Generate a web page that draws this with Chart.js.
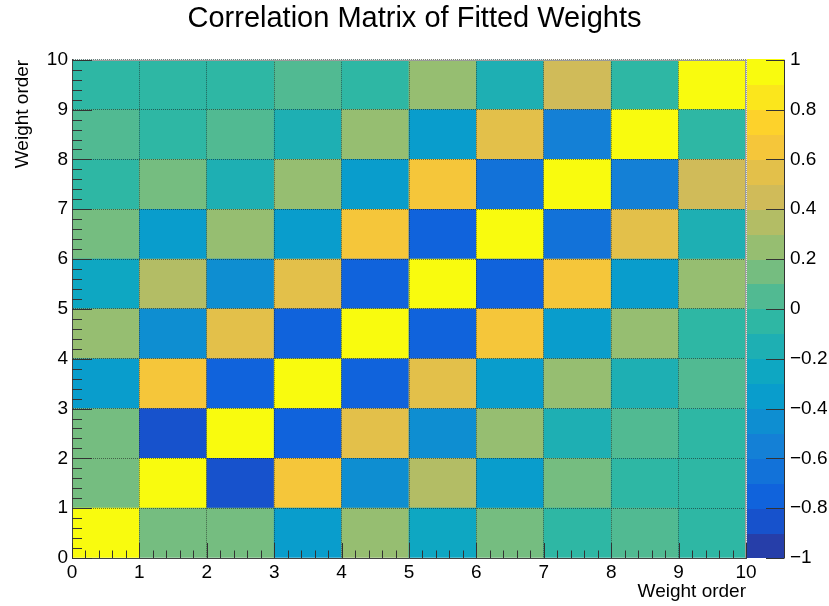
<!DOCTYPE html>
<html>
<head>
<meta charset="utf-8">
<script src="https://cdn.jsdelivr.net/npm/chart.js@4.4.1/dist/chart.umd.min.js"></script>
<style>
html,body{margin:0;padding:0;background:#ffffff;}
#wrap{width:829px;height:606px;}
</style>
</head>
<body>
<div id="wrap"><canvas id="c" width="829" height="606"></canvas></div>
<script>
// ---------- data ----------
const chartTitle = 'Correlation Matrix of Fitted Weights';
const axisTitle = 'Weight order';
const weightOrders = [0, 1, 2, 3, 4, 5, 6, 7, 8, 9];
// correlation value of cell (x = weight order, y = row weight order)
const corrRow0 = [ 1.00,  0.15,  0.15, -0.35,  0.25, -0.25,  0.15, -0.05,  0.05, -0.05];
const corrRow1 = [ 0.15,  1.00, -0.85,  0.65, -0.45,  0.35, -0.35,  0.15, -0.05, -0.05];
const corrRow2 = [ 0.15, -0.85,  1.00, -0.75,  0.55, -0.45,  0.25, -0.15,  0.05, -0.05];
const corrRow3 = [-0.35,  0.65, -0.75,  1.00, -0.75,  0.55, -0.35,  0.25, -0.15,  0.05];
const corrRow4 = [ 0.25, -0.45,  0.55, -0.75,  1.00, -0.75,  0.65, -0.35,  0.25, -0.05];
const corrRow5 = [-0.25,  0.35, -0.45,  0.55, -0.75,  1.00, -0.75,  0.65, -0.35,  0.25];
const corrRow6 = [ 0.15, -0.35,  0.25, -0.35,  0.65, -0.75,  1.00, -0.65,  0.55, -0.15];
const corrRow7 = [-0.05,  0.15, -0.15,  0.25, -0.35,  0.65, -0.65,  1.00, -0.55,  0.45];
const corrRow8 = [ 0.05, -0.05,  0.05, -0.15,  0.25, -0.35,  0.55, -0.55,  1.00, -0.05];
const corrRow9 = [-0.05, -0.05, -0.05,  0.05, -0.05,  0.25, -0.15,  0.45, -0.05,  1.00];
const correlationRows = [corrRow0, corrRow1, corrRow2, corrRow3, corrRow4,
                         corrRow5, corrRow6, corrRow7, corrRow8, corrRow9];
const axisTicks = [0, 1, 2, 3, 4, 5, 6, 7, 8, 9, 10];
const contourLevels = [-1, -0.9, -0.8, -0.7, -0.6, -0.5, -0.4, -0.3, -0.2, -0.1, 0,
                       0.1, 0.2, 0.3, 0.4, 0.5, 0.6, 0.7, 0.8, 0.9, 1];
const colorbarTicks = [-1, -0.8, -0.6, -0.4, -0.2, 0, 0.2, 0.4, 0.6, 0.8, 1];

// ---------- style ----------
const FONT = '"Liberation Sans", Arial, Helvetica, sans-serif';
const birdStops = [0, 0.125, 0.25, 0.375, 0.5, 0.625, 0.75, 0.875, 1];
const birdR = [0.2082, 0.0592, 0.0780, 0.0232, 0.1802, 0.5301, 0.8186, 0.9956, 0.9764];
const birdG = [0.1664, 0.3599, 0.5041, 0.6419, 0.7178, 0.7492, 0.7328, 0.7862, 0.9832];
const birdB = [0.5293, 0.8684, 0.8385, 0.7914, 0.6425, 0.4662, 0.3499, 0.1968, 0.0539];

function birdColor(f) {
  f = Math.max(0, Math.min(1, f));
  let k = 0;
  while (k < birdStops.length - 2 && f > birdStops[k + 1]) k++;
  const t = (f - birdStops[k]) / (birdStops[k + 1] - birdStops[k]);
  const c = a => Math.round(255 * (a[k] + (a[k + 1] - a[k]) * t));
  return `rgb(${c(birdR)},${c(birdG)},${c(birdB)})`;
}
const nLevels = contourLevels.length - 1;
function levelIndex(v) {
  let i = 0;
  while (i < nLevels - 1 && v >= contourLevels[i + 1]) i++;
  return i;
}
function levelColor(i) { return birdColor((i + 0.99) / nLevels); }
function valueColor(v) { return levelColor(levelIndex(v)); }

// ---------- datasets: one row of cells per dataset ----------
const datasets = correlationRows.map((row, r) => ({
  data: weightOrders.map((w, c) => ({ x: w + 0.5, y: [weightOrders[r], weightOrders[r] + 1], v: row[c] })),
  backgroundColor: ctx => valueColor(ctx.raw.v),
  borderWidth: 0,
  grouped: false,
  barPercentage: 1,
  categoryPercentage: 1
}));

function fmtBar(v) {
  const r = Math.round(v * 10) / 10;
  return r < 0 ? '\u2212' + Math.abs(r) : String(r);
}

const decorPlugin = {
  id: 'decor',
  afterDraw(chart) {
    const { ctx, chartArea: a, scales } = chart;
    const xs = scales.x, ys = scales.y, cs = scales.y2;
    ctx.save();
    // colour bar
    const bx0 = a.right + 1, bx1 = a.right + 38;
    for (let i = 0; i < nLevels; i++) {
      const yTop = cs.getPixelForValue(contourLevels[i + 1]);
      const yBot = cs.getPixelForValue(contourLevels[i]);
      ctx.fillStyle = levelColor(i);
      ctx.fillRect(bx0, Math.floor(yTop), bx1 - bx0, Math.ceil(yBot) - Math.floor(yTop));
    }
    ctx.strokeStyle = '#333';
    ctx.lineWidth = 1;
    ctx.beginPath();
    ctx.moveTo(bx1 + 0.5, cs.getPixelForValue(1));
    ctx.lineTo(bx1 + 0.5, cs.getPixelForValue(-1));
    colorbarTicks.forEach(t => {
      const py = Math.round(cs.getPixelForValue(t)) + 0.5;
      ctx.moveTo(bx1 + 0.5, py);
      ctx.lineTo(bx1 - 18, py);
    });
    ctx.stroke();
    // frame top/right
    ctx.strokeStyle = '#9a9a9a';
    ctx.beginPath();
    ctx.moveTo(a.left, Math.round(a.top) + 0.5);
    ctx.lineTo(a.right, Math.round(a.top) + 0.5);
    ctx.moveTo(Math.round(a.right) - 0.5, a.top);
    ctx.lineTo(Math.round(a.right) - 0.5, a.bottom);
    ctx.stroke();
    // inward ticks (major + minor)
    ctx.strokeStyle = '#333';
    ctx.beginPath();
    for (let k = 0; k <= 50; k++) {
      const v = k / 5;
      const major = k % 5 === 0;
      const px = Math.round(xs.getPixelForValue(v)) + 0.5;
      ctx.moveTo(px, a.bottom);
      ctx.lineTo(px, a.bottom - (major ? 15 : 7.5));
      const py = Math.round(ys.getPixelForValue(v)) + 0.5;
      ctx.moveTo(a.left, py);
      ctx.lineTo(a.left + (major ? 20 : 10), py);
    }
    ctx.stroke();
    ctx.restore();
  }
};

const tickFont = { family: FONT, size: 19 };
const gridOpts = { display: true, drawTicks: false, color: 'rgba(25,25,25,0.55)', lineWidth: 1, z: 1, offset: false };

new Chart(document.getElementById('c'), {
  type: 'bar',
  data: { datasets },
  plugins: [decorPlugin],
  options: {
    responsive: false,
    animation: false,
    layout: { padding: 0 },
    plugins: {
      legend: { display: false },
      tooltip: { enabled: false },
      title: {
        display: true, text: chartTitle, color: '#000',
        font: { family: FONT, size: 29, weight: 'normal' },
        padding: { top: 2, bottom: 23 }
      }
    },
    scales: {
      x: {
        type: 'linear', position: 'bottom', min: 0, max: 10, offset: false,
        afterBuildTicks: s => { s.ticks = axisTicks.map(v => ({ value: v })); },
        ticks: { font: tickFont, color: '#000', padding: 3, maxRotation: 0, autoSkip: false, callback: v => String(v) },
        grid: gridOpts,
        border: { display: true, color: '#444', width: 1, dash: [1, 1], z: 2 },
        title: { display: true, text: axisTitle, align: 'end', color: '#000', font: { family: FONT, size: 19 }, padding: { top: 0, bottom: 3 } },
        afterFit: s => { s.height = 48; }
      },
      y: {
        type: 'linear', position: 'left', min: 0, max: 10,
        afterBuildTicks: s => { s.ticks = axisTicks.map(v => ({ value: v })); },
        ticks: { font: tickFont, color: '#000', padding: 4, autoSkip: false, callback: v => String(v) },
        grid: gridOpts,
        border: { display: true, color: '#444', width: 1, dash: [1, 1], z: 2 },
        title: { display: true, text: axisTitle, align: 'end', color: '#000', font: { family: FONT, size: 19 }, padding: { top: 11, bottom: 0 } },
        afterFit: s => { s.width = 72; }
      },
      y2: {
        type: 'linear', position: 'right', min: -1, max: 1,
        afterBuildTicks: s => { s.ticks = colorbarTicks.map(v => ({ value: v })); },
        ticks: { font: tickFont, color: '#000', padding: 4, autoSkip: false, callback: v => fmtBar(v) },
        grid: { display: true, drawOnChartArea: false, drawTicks: true, tickLength: 40, tickColor: 'rgba(0,0,0,0)' },
        border: { display: false },
        afterFit: s => { s.width = 83; }
      }
    }
  }
});
</script>
</body>
</html>
